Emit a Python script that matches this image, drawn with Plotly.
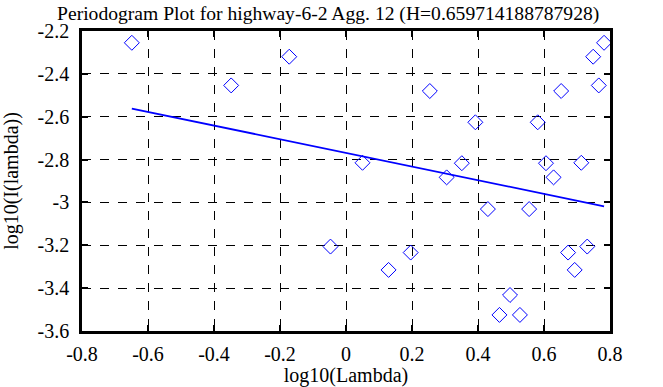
import plotly.graph_objects as go

# log10(Lambda) values
log_lambda = [-0.649, -0.348, -0.172, -0.047, 0.050, 0.129, 0.196, 0.254, 0.305,
              0.351, 0.392, 0.430, 0.465, 0.497, 0.527, 0.555, 0.581, 0.606,
              0.629, 0.652, 0.673, 0.693, 0.713, 0.731, 0.749, 0.766, 0.782]
# log10(I(lambda)) values
log_I = [-2.255, -2.454, -2.320, -3.206, -2.815, -3.315, -3.234, -2.480, -2.883,
         -2.817, -2.626, -3.031, -3.525, -3.432, -3.525, -3.031, -2.626, -2.817,
         -2.883, -2.480, -3.234, -3.315, -2.815, -3.206, -2.320, -2.454, -2.255]

# least-squares fit line (endpoints)
fit_x = [-0.649, 0.782]
fit_y = [-2.562, -3.018]

title_text = "Periodogram Plot for highway-6-2 Agg. 12 (H=0.659714188787928)"
x_ticks = [-0.8, -0.6, -0.4, -0.2, 0, 0.2, 0.4, 0.6, 0.8]
x_tick_labels = ["-0.8", "-0.6", "-0.4", "-0.2", "0", "0.2", "0.4", "0.6", "0.8"]
y_ticks = [-3.6, -3.4, -3.2, -3.0, -2.8, -2.6, -2.4, -2.2]
y_tick_labels = ["-3.6", "-3.4", "-3.2", "-3", "-2.8", "-2.6", "-2.4", "-2.2"]

FONT = "Liberation Serif"

fig = go.Figure()
fig.add_trace(go.Scatter(
    x=log_lambda, y=log_I, mode="markers",
    marker=dict(symbol="diamond-open", size=11.5, color="#0000ff",
                line=dict(width=1, color="#0000ff")),
    showlegend=False, hoverinfo="skip", cliponaxis=False))
fig.add_trace(go.Scatter(
    x=fit_x, y=fit_y, mode="lines",
    line=dict(color="#0000ff", width=1.8),
    showlegend=False, hoverinfo="skip"))

axis_common = dict(
    showline=True, linecolor="black", linewidth=2.5, mirror="allticks",
    ticks="inside", ticklen=6, tickwidth=2, tickcolor="black",
    showgrid=True, gridcolor="black", gridwidth=1, griddash="dash",
    zeroline=False, automargin=False,
    tickfont=dict(family=FONT, size=20, color="black"),
)

fig.update_layout(
    width=663, height=387,
    paper_bgcolor="white", plot_bgcolor="white",
    margin=dict(l=82, r=53, t=31, b=56),
    title=dict(text=title_text, x=0.495, xanchor="center", y=0.966, yanchor="middle",
               font=dict(family=FONT, size=19.6, color="black")),
    font=dict(family=FONT, color="black"),
)
fig.update_xaxes(range=[-0.8, 0.8], tickvals=x_ticks, ticktext=x_tick_labels,
                 ticklabelstandoff=3,
                 title=dict(text="log10(Lambda)", font=dict(family=FONT, size=20), standoff=3),
                 **axis_common)
fig.update_yaxes(range=[-3.6, -2.2], tickvals=y_ticks, ticktext=y_tick_labels,
                 ticklabelstandoff=6,
                 title=dict(text="log10(I(lambda))", font=dict(family=FONT, size=20), standoff=14),
                 **axis_common)

fig.write_html("out.html", config={"displayModeBar": False},
               post_script="document.body.style.margin='0';")
